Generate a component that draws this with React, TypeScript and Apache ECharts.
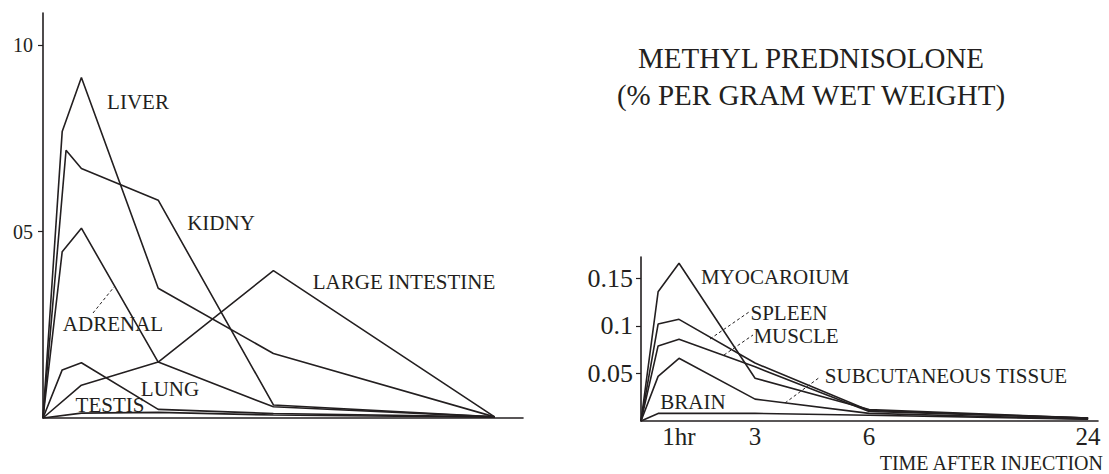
import React, { useEffect, useRef } from "react";
import * as echarts from "echarts";

// ---- data ----
const TIMES_LEFT = [0, 0.5, 1, 3, 6, 24];
const KIDNEY_TIMES = [0, 0.6, 1, 3, 6, 24];
const TIMES_RIGHT = [0, 0.45, 1, 3, 6, 24];

const liver = [0, 7.68, 9.13, 3.48, 1.73, 0.03];
const kidney = [0, 7.18, 6.69, 5.84, 0.35, 0.03];
const adrenal = [0, 4.46, 5.09, 1.5, 0.3, 0.03];
const largeIntestine = [0, null, 0.88, 1.5, 3.95, 0.03];
const lung = [0, 1.29, 1.48, 0.23, 0.12, 0.03];
const testis = [0, null, 0.13, 0.15, 0.08, 0.02];

const myocardium = [0, 0.136, 0.166, 0.045, 0.012, 0.003];
const spleen = [0, 0.102, 0.107, 0.061, 0.011, 0.003];
const muscle = [0, 0.079, 0.086, 0.057, 0.01, 0.003];
const subcutaneous = [0, 0.047, 0.066, 0.023, 0.008, 0.002];
const brain = [0, 0.008, 0.008, 0.008, 0.006, 0.002];

const LEFT_Y_TICKS = [5, 10];
const LEFT_Y_LABELS = ["05", "10"];
const RIGHT_Y_TICKS = [0.05, 0.1, 0.15];
const RIGHT_Y_LABELS = ["0.05", "0.1", "0.15"];
const RIGHT_X_TICKS = [1, 3, 6, 24];
const RIGHT_X_LABELS = ["1hr", "3", "6", "24"];

// broken time axis: after 6 h the scale is compressed
const BREAK = 6;
const COMPRESS = 0.32;
const tx = (t: number) => (t <= BREAK ? t : BREAK + (t - BREAK) * COMPRESS);

const INK = "#231f20";
const SERIF = "'Liberation Serif', serif";

function pairs(times: number[], vals: (number | null)[]) {
  const out: [number, number][] = [];
  vals.forEach((v, i) => {
    if (v !== null) out.push([tx(times[i]), v]);
  });
  return out;
}

function lineSeries(name: string, data: [number, number][], idx: number) {
  return {
    name,
    type: "line",
    xAxisIndex: idx,
    yAxisIndex: idx,
    data,
    symbol: "none",
    silent: true,
    lineStyle: { color: INK, width: 1.6 },
  };
}

function label(text: string, x: number, y: number, size = 21, align = "center") {
  return {
    type: "text",
    x,
    y,
    silent: true,
    style: {
      text,
      fill: INK,
      font: `${size}px ${SERIF}`,
      textAlign: align,
      textVerticalAlign: "middle",
    },
  };
}

function leader(x1: number, y1: number, x2: number, y2: number) {
  return {
    type: "line",
    silent: true,
    shape: { x1, y1, x2, y2 },
    style: { stroke: INK, lineWidth: 1, lineDash: [3, 2.5] },
  };
}

export default function App() {
  const ref = useRef<HTMLDivElement>(null);

  useEffect(() => {
    if (!ref.current) return;
    const chart = echarts.init(ref.current, null, { renderer: "svg" });

    const axisLine = { show: true, lineStyle: { color: INK, width: 1.6 } };

    const option = {
      animation: false,
      backgroundColor: "#ffffff",
      textStyle: { fontFamily: SERIF },
      grid: [
        { left: 43, top: 13, width: 480, height: 405 },
        { left: 641, top: 257, width: 457, height: 164 },
      ],
      xAxis: [
        {
          gridIndex: 0,
          type: "value",
          min: 0,
          max: 12.5,
          axisLine,
          axisTick: { show: false },
          axisLabel: { show: false },
          splitLine: { show: false },
        },
        {
          gridIndex: 1,
          type: "value",
          min: 0,
          max: 12.02,
          axisLine,
          axisTick: { show: false },
          splitLine: { show: false },
          axisLabel: {
            show: true,
            customValues: RIGHT_X_TICKS.map(tx),
            formatter: (v: number) => {
              const i = RIGHT_X_TICKS.map(tx).findIndex((t) => Math.abs(t - v) < 1e-6);
              return i >= 0 ? RIGHT_X_LABELS[i] : "";
            },
            color: INK,
            fontFamily: SERIF,
            fontSize: 25,
            margin: 3,
          },
        },
      ],
      yAxis: [
        {
          gridIndex: 0,
          type: "value",
          min: 0,
          max: 10.86,
          axisLine,
          splitLine: { show: false },
          axisTick: {
            show: true,
            customValues: LEFT_Y_TICKS,
            length: 5,
            lineStyle: { color: INK, width: 1.2 },
          },
          axisLabel: {
            show: true,
            customValues: LEFT_Y_TICKS,
            formatter: (v: number) => {
              const i = LEFT_Y_TICKS.findIndex((t) => Math.abs(t - v) < 1e-6);
              return i >= 0 ? LEFT_Y_LABELS[i] : "";
            },
            color: INK,
            fontFamily: SERIF,
            fontSize: 20,
            margin: 10,
          },
        },
        {
          gridIndex: 1,
          type: "value",
          min: 0,
          max: 0.1726,
          axisLine,
          splitLine: { show: false },
          axisTick: {
            show: true,
            customValues: RIGHT_Y_TICKS,
            length: 5,
            lineStyle: { color: INK, width: 1.2 },
          },
          axisLabel: {
            show: true,
            customValues: RIGHT_Y_TICKS,
            formatter: (v: number) => {
              const i = RIGHT_Y_TICKS.findIndex((t) => Math.abs(t - v) < 1e-6);
              return i >= 0 ? RIGHT_Y_LABELS[i] : "";
            },
            color: INK,
            fontFamily: SERIF,
            fontSize: 26,
            margin: 8,
          },
        },
      ],
      series: [
        lineSeries("LIVER", pairs(TIMES_LEFT, liver), 0),
        lineSeries("KIDNY", pairs(KIDNEY_TIMES, kidney), 0),
        lineSeries("ADRENAL", pairs(TIMES_LEFT, adrenal), 0),
        lineSeries("LARGE INTESTINE", pairs(TIMES_LEFT, largeIntestine), 0),
        lineSeries("LUNG", pairs(TIMES_LEFT, lung), 0),
        lineSeries("TESTIS", pairs(TIMES_LEFT, testis), 0),
        lineSeries("MYOCAROIUM", pairs(TIMES_RIGHT, myocardium), 1),
        lineSeries("SPLEEN", pairs(TIMES_RIGHT, spleen), 1),
        lineSeries("MUSCLE", pairs(TIMES_RIGHT, muscle), 1),
        lineSeries("SUBCUTANEOUS TISSUE", pairs(TIMES_RIGHT, subcutaneous), 1),
        lineSeries("BRAIN", pairs(TIMES_RIGHT, brain), 1),
      ],
      graphic: [
        label("METHYL PREDNISOLONE", 811, 58, 29),
        label("(% PER GRAM WET WEIGHT)", 811, 95, 29),
        label("LIVER", 138, 102),
        label("KIDNY", 221, 223),
        label("LARGE INTESTINE", 404, 282),
        label("ADRENAL", 113, 324),
        label("LUNG", 170, 389),
        label("TESTIS", 110, 405),
        label("MYOCAROIUM", 775, 277),
        label("SPLEEN", 789, 313),
        label("MUSCLE", 796, 336),
        label("SUBCUTANEOUS TISSUE", 946, 376),
        label("BRAIN", 693, 402),
        label("TIME AFTER INJECTION", 1103, 463, 20, "right"),
        leader(93, 313, 114, 287),
        leader(710, 339, 749, 312),
        leader(724, 355, 753, 335),
        leader(785, 403, 820, 377),
      ],
    };

    chart.setOption(option as any);
    return () => chart.dispose();
  }, []);

  return (
    <div
      ref={ref}
      style={{ position: "absolute", left: 0, top: 0, width: 1109, height: 474, background: "#fff" }}
    />
  );
}
